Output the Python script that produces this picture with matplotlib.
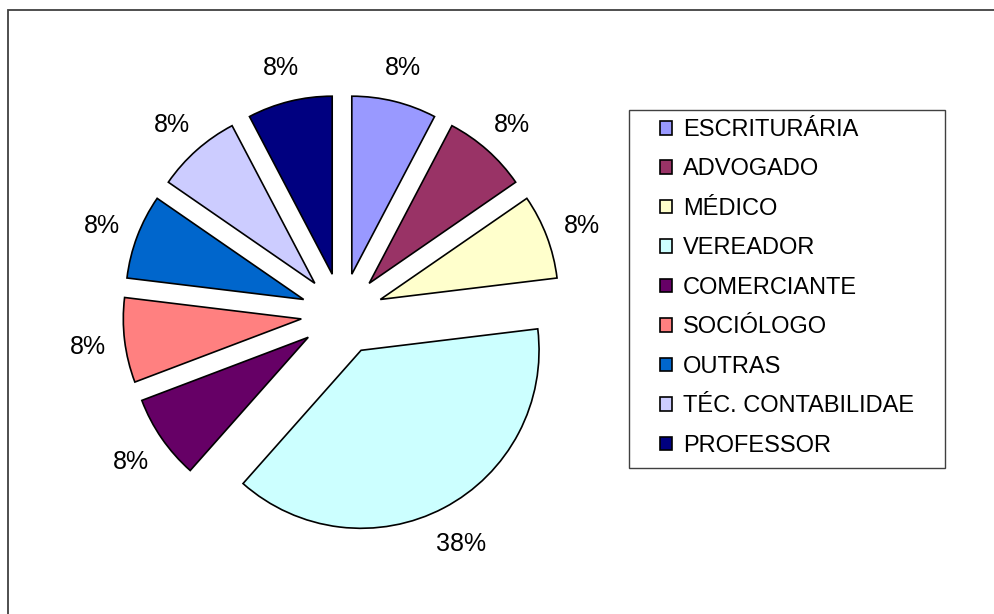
import matplotlib.pyplot as plt
from matplotlib.patches import Rectangle

labels = ["ESCRITURÁRIA", "ADVOGADO", "MÉDICO", "VEREADOR", "COMERCIANTE",
          "SOCIÓLOGO", "OUTRAS", "TÉC. CONTABILIDAE", "PROFESSOR"]
counts = [1, 1, 1, 5, 1, 1, 1, 1, 1]
colors = ["#9999FF", "#993366", "#FFFFCC", "#CCFFFF", "#660066",
          "#FF8080", "#0066CC", "#CCCCFF", "#000080"]

W, H = 994, 614
FONT = "Liberation Sans"

fig = plt.figure(figsize=(W / 100, H / 100), dpi=100)
ax = fig.add_axes([0, 0, 1, 1])

# explode is in data units (pixels here), not a fraction of the radius
wedges, texts, autotexts = ax.pie(
    counts,
    colors=colors,
    startangle=90,
    counterclock=False,
    center=(342, H - 314),
    radius=178,
    explode=[41] * len(counts),
    autopct="%1.0f%%",
    pctdistance=1.21,
    wedgeprops=dict(edgecolor="black", linewidth=1.2),
    textprops=dict(fontsize=18, family=FONT, color="black",
                   va="center_baseline"),
)

ax.set_xlim(0, W)
ax.set_ylim(0, H)
ax.set_aspect("equal")
ax.axis("off")

# outer chart border (right/bottom run off the picture)
ax.add_patch(Rectangle((7.5, -20), W + 40, H - 9.5 + 20, fill=False,
                       edgecolor="#404040", linewidth=1.3))

# legend frame
ax.add_patch(Rectangle((629, H - 468), 316, 358, fill=False,
                       edgecolor="#404040", linewidth=1.0))

ax.legend(
    wedges, labels,
    loc="upper left",
    bbox_to_anchor=(660, H - 119),
    bbox_transform=ax.transData,
    frameon=False,
    prop=dict(family=FONT, size=17),
    handlelength=0.52,
    handleheight=0.52,
    handletextpad=0.45,
    labelspacing=0.74,
    borderpad=0,
    borderaxespad=0,
)

fig.savefig("out.png", dpi=100)
